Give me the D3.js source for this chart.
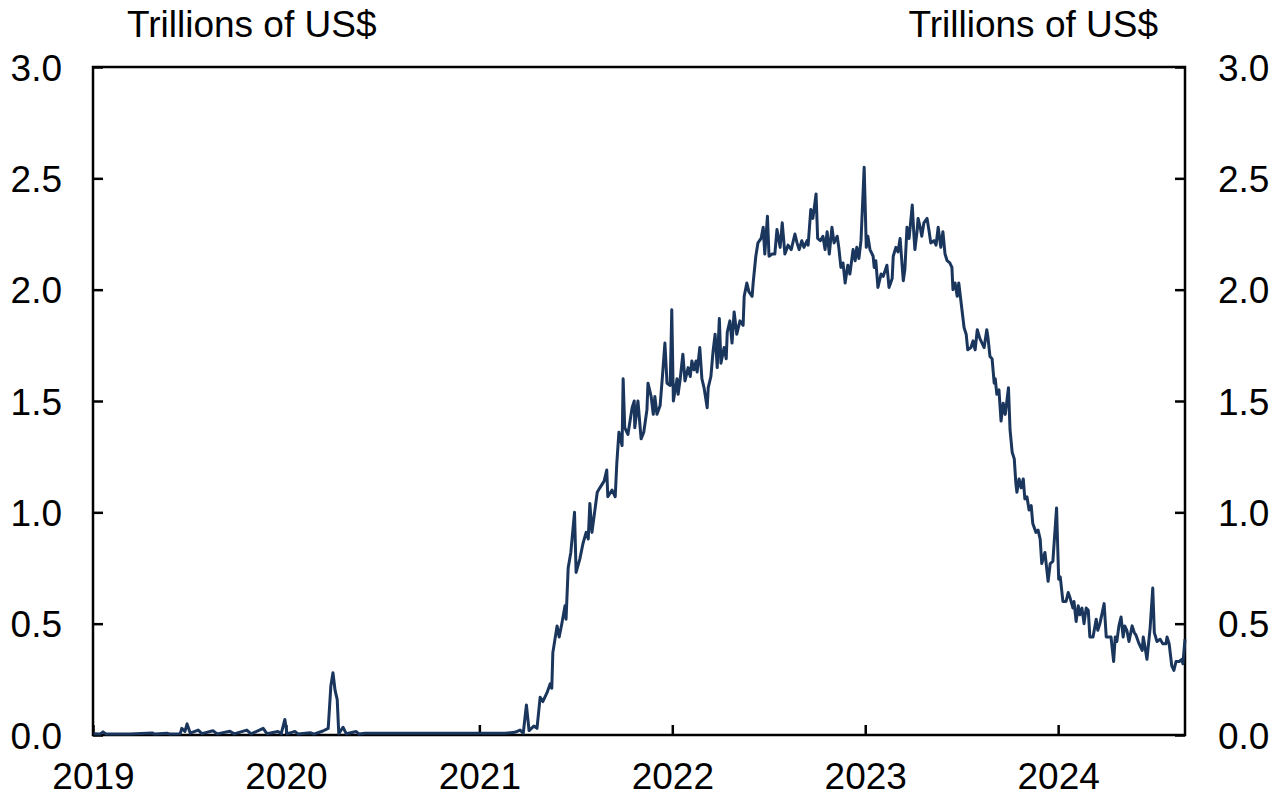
<!DOCTYPE html>
<html>
<head>
<meta charset="utf-8">
<script src="https://cdn.jsdelivr.net/npm/d3@7"></script>
<style>
  html, body { margin: 0; padding: 0; background: #fff; }
  svg { display: block; }
  text { font-family: "Liberation Sans", Arial, sans-serif; fill: #000; }
</style>
</head>
<body>
<svg id="chart" width="1275" height="794"></svg>
<script>
// Overnight reverse repo usage, trillions of US$
const dates = [
  "2019-01-02","2019-01-14","2019-01-20","2019-01-26","2019-03-12","2019-04-23","2019-04-28","2019-05-21","2019-05-27",
  "2019-06-15","2019-06-18","2019-06-24","2019-06-28","2019-07-04","2019-07-19","2019-07-26","2019-08-16","2019-08-24",
  "2019-09-17","2019-09-25","2019-10-19","2019-10-27","2019-11-19","2019-11-26","2019-12-17","2019-12-23","2019-12-30",
  "2020-01-03","2020-01-18","2020-01-24","2020-02-16","2020-02-23","2020-03-11","2020-03-21","2020-03-26","2020-03-30",
  "2020-04-03","2020-04-07","2020-04-10","2020-04-18","2020-04-24","2020-05-13","2020-05-18","2020-05-30","2020-12-14",
  "2021-02-19","2021-03-09","2021-03-19","2021-03-25","2021-03-31","2021-04-05","2021-04-14","2021-04-20","2021-04-26",
  "2021-05-01","2021-05-09","2021-05-15","2021-05-18","2021-05-20","2021-05-28","2021-06-01","2021-06-06","2021-06-12",
  "2021-06-14","2021-06-18","2021-06-23","2021-06-30","2021-07-03","2021-07-10","2021-07-16","2021-07-22","2021-07-26",
  "2021-07-29","2021-08-02","2021-08-12","2021-08-17","2021-08-25","2021-08-30","2021-09-01","2021-09-09","2021-09-15",
  "2021-09-18","2021-09-22","2021-09-28","2021-09-30","2021-10-03","2021-10-09","2021-10-17","2021-10-21","2021-10-22",
  "2021-10-28","2021-11-03","2021-11-08","2021-11-14","2021-11-16","2021-11-22","2021-11-26","2021-11-29","2021-12-03",
  "2021-12-09","2021-12-13","2021-12-18","2021-12-22","2021-12-28","2021-12-31",
  "2022-01-03","2022-01-10","2022-01-12","2022-01-16","2022-01-21","2022-01-25","2022-01-31","2022-02-04","2022-02-07",
  "2022-02-11","2022-02-15","2022-02-17","2022-02-22","2022-02-26","2022-03-02","2022-03-08","2022-03-10","2022-03-15",
  "2022-03-19","2022-03-23","2022-03-27","2022-03-31","2022-04-03","2022-04-09","2022-04-13","2022-04-15","2022-04-20",
  "2022-04-24","2022-04-28","2022-05-03","2022-05-09","2022-05-15","2022-05-17","2022-05-22","2022-05-26","2022-06-01",
  "2022-06-03","2022-06-08","2022-06-12","2022-06-18","2022-06-22","2022-06-25","2022-06-30","2022-07-03","2022-07-09",
  "2022-07-14","2022-07-18","2022-07-24","2022-07-28","2022-08-02","2022-08-08","2022-08-14","2022-08-21","2022-08-25",
  "2022-08-29","2022-09-03","2022-09-07","2022-09-13","2022-09-15","2022-09-20","2022-09-24","2022-09-30","2022-10-03",
  "2022-10-08","2022-10-13","2022-10-17","2022-10-21","2022-10-25","2022-10-30","2022-11-03","2022-11-09","2022-11-12",
  "2022-11-16","2022-11-20","2022-11-24","2022-11-29","2022-12-03","2022-12-09","2022-12-13","2022-12-16","2022-12-20",
  "2022-12-24","2022-12-30",
  "2023-01-03","2023-01-06","2023-01-10","2023-01-16","2023-01-18","2023-01-21","2023-01-25","2023-01-31","2023-02-04",
  "2023-02-07","2023-02-11","2023-02-15","2023-02-21","2023-02-23","2023-02-28","2023-03-04","2023-03-08","2023-03-14",
  "2023-03-17","2023-03-21","2023-03-25","2023-03-31","2023-04-03","2023-04-05","2023-04-09","2023-04-11","2023-04-15",
  "2023-04-18","2023-04-22","2023-04-28","2023-05-02","2023-05-05","2023-05-11","2023-05-15","2023-05-19","2023-05-24",
  "2023-05-28","2023-06-01","2023-06-05","2023-06-10","2023-06-14","2023-06-16","2023-06-20","2023-06-24","2023-06-27",
  "2023-07-03","2023-07-07","2023-07-11","2023-07-14","2023-07-20","2023-07-24","2023-07-28","2023-08-01","2023-08-06",
  "2023-08-10","2023-08-14","2023-08-19","2023-08-21","2023-08-25","2023-08-29","2023-09-02","2023-09-04","2023-09-07",
  "2023-09-11","2023-09-15","2023-09-19","2023-09-23","2023-09-24","2023-09-29","2023-10-02","2023-10-06","2023-10-10",
  "2023-10-13","2023-10-15","2023-10-19","2023-10-23","2023-10-27","2023-10-30","2023-11-03","2023-11-07","2023-11-11",
  "2023-11-14","2023-11-20","2023-11-24","2023-11-28","2023-12-01","2023-12-07","2023-12-13","2023-12-17","2023-12-22",
  "2023-12-29",
  "2024-01-02","2024-01-05","2024-01-10","2024-01-16","2024-01-20","2024-01-23","2024-01-29","2024-01-31","2024-02-04",
  "2024-02-08","2024-02-11","2024-02-15","2024-02-19","2024-02-23","2024-02-27","2024-03-01","2024-03-07","2024-03-13",
  "2024-03-16","2024-03-20","2024-03-28","2024-04-01","2024-04-04","2024-04-10","2024-04-15","2024-04-18","2024-04-21",
  "2024-04-25","2024-04-29","2024-05-03","2024-05-06","2024-05-10","2024-05-14","2024-05-20","2024-05-24","2024-05-27",
  "2024-06-02","2024-06-08","2024-06-10","2024-06-13","2024-06-17","2024-06-23","2024-06-28","2024-07-01","2024-07-06",
  "2024-07-12","2024-07-17","2024-07-23","2024-07-25","2024-07-29","2024-08-03","2024-08-07","2024-08-11","2024-08-17",
  "2024-08-22","2024-08-24","2024-08-28"
];

const values = [
  0.006,0.004,0.014,0.004,0.004,0.009,0.004,0.008,0.004,
  0.006,0.030,0.016,0.050,0.008,0.022,0.006,0.019,0.005,
  0.017,0.005,0.022,0.005,0.030,0.006,0.016,0.005,0.070,
  0.005,0.016,0.004,0.010,0.004,0.018,0.030,0.220,0.280,
  0.200,0.160,0.006,0.035,0.006,0.016,0.004,0.008,0.008,
  0.008,0.012,0.022,0.008,0.135,0.020,0.040,0.030,0.170,
  0.150,0.190,0.230,0.210,0.370,0.490,0.440,0.500,0.580,
  0.520,0.750,0.820,1.000,0.730,0.790,0.860,0.910,0.880,
  1.040,0.910,1.090,1.110,1.140,1.190,1.070,1.100,1.070,
  1.220,1.360,1.300,1.600,1.380,1.350,1.470,1.500,1.380,
  1.500,1.330,1.360,1.460,1.580,1.520,1.440,1.520,1.440,
  1.480,1.600,1.760,1.580,1.570,1.910,
  1.500,1.600,1.530,1.600,1.710,1.590,1.650,1.610,1.680,
  1.640,1.680,1.630,1.740,1.600,1.560,1.470,1.560,1.610,
  1.720,1.800,1.650,1.870,1.670,1.740,1.690,1.810,1.860,
  1.760,1.900,1.800,1.860,1.840,1.970,2.030,1.990,1.970,
  2.030,2.150,2.210,2.230,2.280,2.160,2.330,2.150,2.160,
  2.160,2.270,2.190,2.300,2.160,2.200,2.180,2.250,2.210,
  2.180,2.220,2.190,2.220,2.200,2.360,2.320,2.430,2.230,
  2.220,2.240,2.180,2.260,2.160,2.280,2.210,2.240,2.190,
  2.100,2.120,2.030,2.110,2.070,2.180,2.130,2.190,2.140,
  2.220,2.550,
  2.190,2.240,2.180,2.150,2.100,2.130,2.010,2.070,2.060,
  2.080,2.110,2.010,2.050,2.150,2.190,2.170,2.230,2.040,
  2.090,2.280,2.230,2.380,2.250,2.180,2.260,2.320,2.280,
  2.240,2.300,2.320,2.260,2.210,2.220,2.200,2.280,2.190,
  2.260,2.160,2.130,2.120,2.100,2.000,2.030,1.970,2.030,
  1.910,1.830,1.800,1.730,1.740,1.770,1.730,1.820,1.780,
  1.760,1.740,1.820,1.790,1.700,1.690,1.580,1.600,1.530,
  1.550,1.410,1.490,1.440,1.460,1.560,1.370,1.270,1.240,
  1.130,1.090,1.150,1.110,1.150,1.060,1.070,1.010,1.030,
  0.950,0.910,0.920,0.880,0.770,0.820,0.690,0.770,0.780,
  1.020,
  0.700,0.710,0.600,0.600,0.640,0.620,0.570,0.600,0.510,
  0.580,0.540,0.570,0.500,0.570,0.560,0.440,0.440,0.520,
  0.470,0.500,0.590,0.440,0.440,0.440,0.330,0.440,0.420,
  0.490,0.530,0.440,0.490,0.470,0.420,0.490,0.460,0.450,
  0.410,0.380,0.440,0.400,0.340,0.480,0.660,0.460,0.420,
  0.430,0.410,0.410,0.440,0.410,0.310,0.290,0.330,0.330,
  0.340,0.320,0.430
];

const yTicks = [0, 0.5, 1.0, 1.5, 2.0, 2.5, 3.0];
const xTickYears = ["2019-01-01","2020-01-01","2021-01-01","2022-01-01","2023-01-01","2024-01-01"];
const xDomain = ["2019-01-01", "2024-08-28"];
const unitLabel = "Trillions of US$";

const parse = d3.utcParse("%Y-%m-%d");
const series = dates.map((d, i) => ({ date: parse(d), value: values[i] }));

const plot = { left: 93, right: 1185, top: 67, bottom: 735 };

const svg = d3.select("#chart");

const x = d3.scaleUtc()
  .domain(xDomain.map(parse))
  .range([plot.left, plot.right]);

const y = d3.scaleLinear()
  .domain([0, 3])
  .range([plot.bottom, plot.top]);

const fontSize = 37;

// Axes with inward ticks
const leftAxis = d3.axisLeft(y).tickValues(yTicks).tickFormat(d3.format(".1f"))
  .tickSize(-10).tickPadding(31);
const rightAxis = d3.axisRight(y).tickValues(yTicks).tickFormat(d3.format(".1f"))
  .tickSize(-10).tickPadding(33);
const bottomAxis = d3.axisBottom(x).tickValues(xTickYears.map(parse))
  .tickFormat(d3.utcFormat("%Y")).tickSize(-10).tickPadding(0);

function styleAxis(g) {
  g.select(".domain").remove();
  g.selectAll(".tick line").attr("stroke", "#000").attr("stroke-width", 2.5);
  g.selectAll(".tick text")
    .attr("font-family", "'Liberation Sans', Arial, sans-serif")
    .attr("font-size", fontSize)
    .attr("fill", "#000");
}

svg.append("g").attr("transform", `translate(${plot.left},0)`).call(leftAxis).call(styleAxis)
  .selectAll(".tick text").attr("dy", "0.36em");
svg.append("g").attr("transform", `translate(${plot.right},0)`).call(rightAxis).call(styleAxis)
  .selectAll(".tick text").attr("dy", "0.36em");
svg.append("g").attr("transform", `translate(0,${plot.bottom})`).call(bottomAxis).call(styleAxis)
  .selectAll(".tick text").attr("y", 54).attr("dy", 0);

// Plot frame
svg.append("rect")
  .attr("x", plot.left).attr("y", plot.top)
  .attr("width", plot.right - plot.left).attr("height", plot.bottom - plot.top)
  .attr("fill", "none").attr("stroke", "#000").attr("stroke-width", 2.5);

// Series line
const line = d3.line()
  .x(d => x(d.date))
  .y(d => y(d.value));

svg.append("path")
  .datum(series)
  .attr("d", line)
  .attr("fill", "none")
  .attr("stroke", "#1b365d")
  .attr("stroke-width", 3)
  .attr("stroke-linejoin", "round");

// Unit labels above each axis
svg.append("text")
  .attr("x", 127).attr("y", 37)
  .attr("font-size", fontSize)
  .text(unitLabel);
svg.append("text")
  .attr("x", 1158).attr("y", 37)
  .attr("text-anchor", "end")
  .attr("font-size", fontSize)
  .text(unitLabel);
</script>
</body>
</html>
